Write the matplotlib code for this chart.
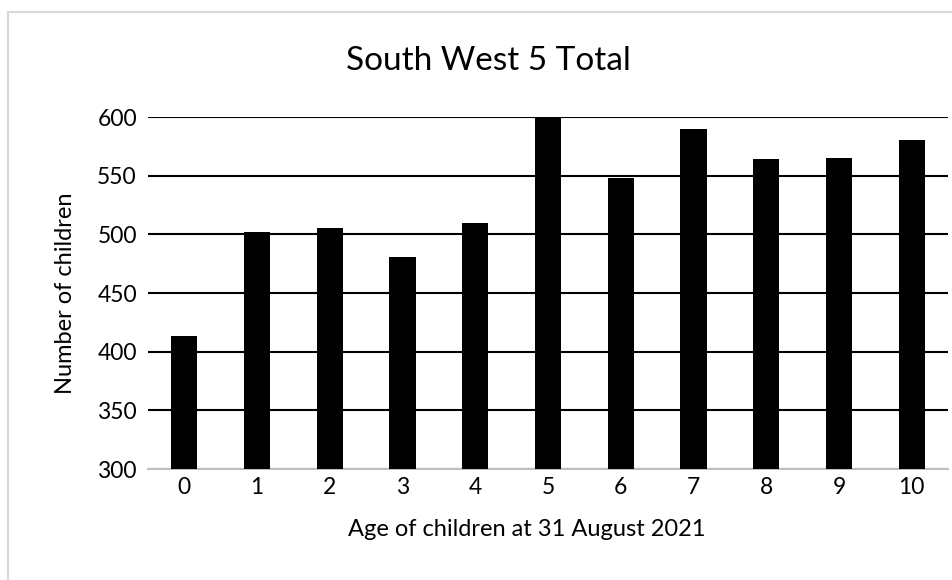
import matplotlib.pyplot as plt
from matplotlib.patches import Rectangle

plt.rcParams['font.family'] = ['Lato', 'DejaVu Sans']

# 数据
ages = ['0', '1', '2', '3', '4', '5', '6', '7', '8', '9', '10']
children = [413, 502, 505, 481, 510, 600, 548, 590, 564, 565, 580]
y_ticks = [300, 350, 400, 450, 500, 550, 600]

fig = plt.figure(figsize=(9.52, 5.8), dpi=100)
ax = fig.add_axes([148 / 952, 1 - 469 / 580, 800 / 952, 352 / 580])

# 外框（只有左边和上边可见）
fig.patches.append(Rectangle((8 / 952, -0.1), 2, 1.1 - 12 / 580, transform=fig.transFigure,
                             fill=False, edgecolor='#d9d9d9', linewidth=1.5))

x = range(len(ages))
ax.bar(x, children, width=0.36, color='black', zorder=3)

ax.set_ylim(300, 600)
ax.set_xlim(-0.5, len(ages) - 0.5)
ax.set_yticks(y_ticks)
ax.set_xticks(list(x))
ax.set_xticklabels(ages)
ax.grid(axis='y', color='black', linewidth=1.5, zorder=0)
ax.set_axisbelow(True)

for side in ['top', 'right', 'left']:
    ax.spines[side].set_visible(False)
ax.spines['bottom'].set_color('#bfbfbf')
ax.spines['bottom'].set_linewidth(1.5)
ax.tick_params(axis='both', length=0, labelsize=16.5, colors='black')
ax.tick_params(axis='y', pad=8)
ax.tick_params(axis='x', pad=6)

fig.text(488 / 952, 1 - 61 / 580, 'South West 5 Total', ha='center', va='center', fontsize=24)
fig.text(527 / 952, 1 - 530 / 580, 'Age of children at 31 August 2021', ha='center', va='center',
         fontsize=17)
fig.text(65 / 952, 1 - 293 / 580, 'Number of children', ha='center', va='center',
         rotation=90, fontsize=17)

plt.savefig('out.png', dpi=100)
plt.close()
